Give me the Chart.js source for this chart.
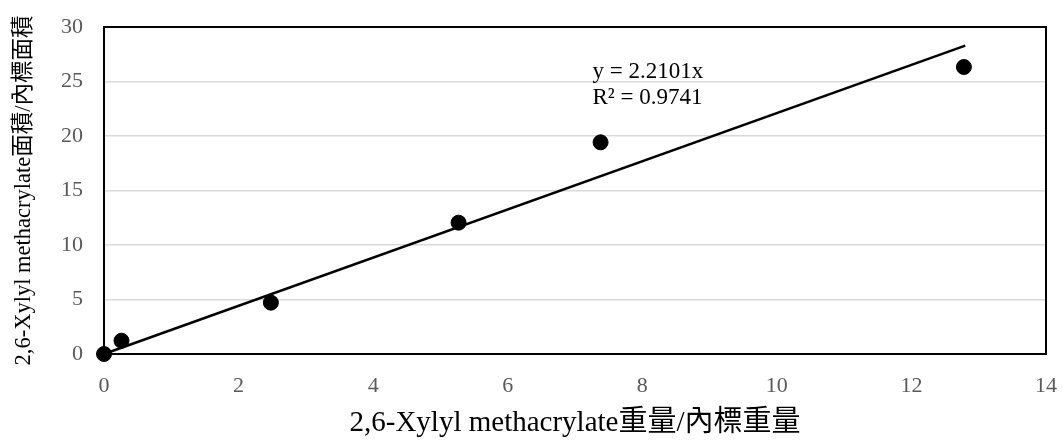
<!DOCTYPE html>
<html>
<head>
<meta charset="utf-8">
<script src="https://cdn.jsdelivr.net/npm/chart.js@4/dist/chart.umd.min.js"></script>
<style>
  html, body { margin: 0; padding: 0; background: #fff; }
  #wrap { width: 1062px; height: 441px; }
</style>
</head>
<body>
<div id="wrap"><canvas id="c" width="1062" height="441"></canvas></div>
<script>
const xValues = [0, 0.26, 2.48, 5.27, 7.38, 12.78];
const yValues = [0, 1.22, 4.71, 12.05, 19.42, 26.33];
const slope = 2.2101;
const rSquared = 0.9741;
const trendX = [0, 12.8];
const xTicks = [0, 2, 4, 6, 8, 10, 12, 14];
const yTicks = [0, 5, 10, 15, 20, 25, 30];
const xTitle = '2,6-Xylyl methacrylate重量/內標重量';
const yTitle = '2,6-Xylyl methacrylate面積/內標面積';

const serif = '"Liberation Serif", "Noto Sans CJK TC", serif';

const points = xValues.map((x, i) => ({ x: x, y: yValues[i] }));
const trend = trendX.map(x => ({ x: x, y: slope * x }));

const frame = {
  id: 'frame',
  afterDatasetsDraw(chart) {
    const a = chart.chartArea, ctx = chart.ctx;
    ctx.save();
    ctx.strokeStyle = '#000';
    ctx.lineWidth = 2;
    ctx.strokeRect(a.left, a.top, a.right - a.left, a.bottom - a.top);
    const xs = chart.scales.x, ys = chart.scales.y;
    ctx.fillStyle = '#000';
    ctx.font = '23px ' + serif;
    ctx.textBaseline = 'alphabetic';
    ctx.textAlign = 'left';
    const tx = xs.getPixelForValue(7.26);
    ctx.fillText('y = ' + slope.toFixed(4) + 'x', tx, ys.getPixelForValue(25.3));
    ctx.fillText('R² = ' + rSquared.toFixed(4), tx, ys.getPixelForValue(22.9));
    ctx.restore();
  }
};

new Chart(document.getElementById('c'), {
  type: 'scatter',
  data: {
    datasets: [
      {
        type: 'line',
        data: trend,
        borderColor: '#000',
        borderWidth: 2.5,
        pointRadius: 0,
        fill: false,
        clip: false,
        order: 2
      },
      {
        data: points,
        backgroundColor: '#000',
        borderColor: '#000',
        pointRadius: 7.5,
        pointHoverRadius: 7.5,
        clip: false,
        order: 1
      }
    ]
  },
  options: {
    responsive: false,
    animation: false,
    events: [],
    layout: { padding: { left: 0, right: 16, top: 27, bottom: 0 } },
    plugins: { legend: { display: false }, tooltip: { enabled: false } },
    scales: {
      x: {
        type: 'linear',
        min: 0, max: 14,
        afterBuildTicks: s => { s.ticks = xTicks.map(v => ({ value: v })); },
        afterFit: s => { s.height = 87; s.paddingLeft = 0; s.paddingRight = 0; },
        grid: { display: false, drawTicks: false },
        border: { display: false },
        ticks: { color: '#595959', font: { family: serif, size: 22 }, padding: 19 },
        title: { display: true, text: xTitle, color: '#000', font: { family: serif, size: 29, lineHeight: 1.0 }, padding: { top: 0, bottom: 3 } }
      },
      y: {
        type: 'linear',
        min: 0, max: 30,
        afterBuildTicks: s => { s.ticks = yTicks.map(v => ({ value: v })); },
        afterFit: s => { s.width = 104; s.paddingTop = 0; s.paddingBottom = 0; },
        grid: { color: '#d9d9d9', lineWidth: 1.5, drawTicks: false },
        border: { display: false },
        ticks: { color: '#595959', font: { family: serif, size: 22 }, padding: 21 },
        title: { display: true, text: yTitle, color: '#000', font: { family: serif, size: 22.5 }, padding: { top: 11, bottom: 0 } }
      }
    }
  },
  plugins: [frame]
});
</script>
</body>
</html>
